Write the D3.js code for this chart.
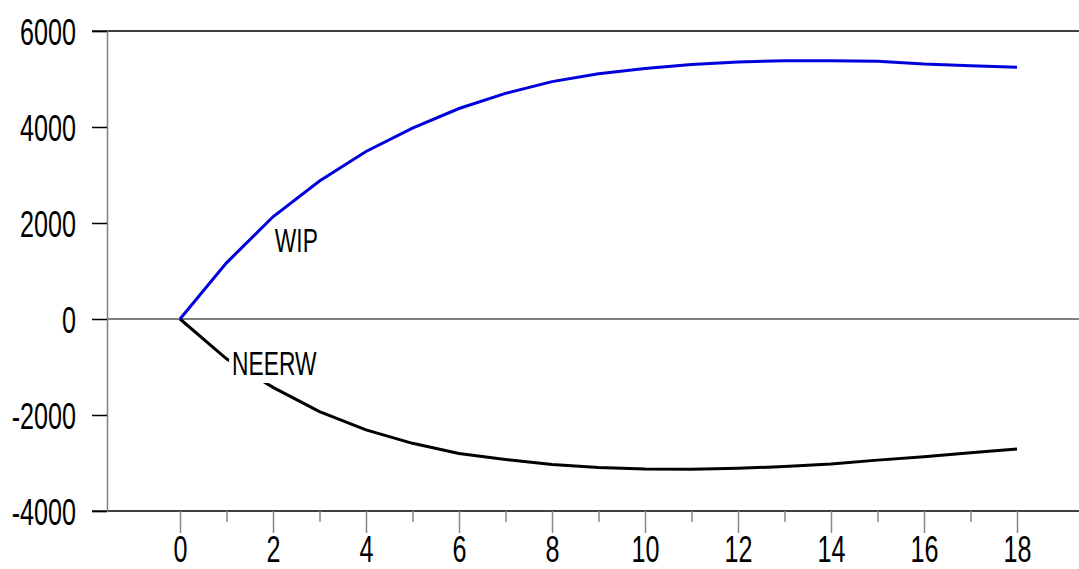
<!DOCTYPE html>
<html>
<head>
<meta charset="utf-8">
<script src="https://cdn.jsdelivr.net/npm/d3@7"></script>
<style>
  body { margin: 0; background: #fff; }
  svg text { font-family: "Liberation Sans", Arial, sans-serif; fill: #000; }
</style>
</head>
<body>
<div id="chart"></div>
<script>
// horizon (periods)
var periods = [0, 1, 2, 3, 4, 5, 6, 7, 8, 9, 10, 11, 12, 13, 14, 15, 16, 17, 18];
// responses
var wip = [0, 1170, 2130, 2875, 3490, 3975, 4385, 4700, 4945, 5110, 5220, 5300, 5355, 5380, 5378, 5370, 5310, 5275, 5245];
var neerw = [0, -830, -1425, -1930, -2310, -2590, -2800, -2925, -3030, -3095, -3125, -3130, -3110, -3075, -3020, -2940, -2870, -2785, -2710];
var yTicks = [6000, 4000, 2000, 0, -2000, -4000];
var xMajor = [0, 2, 4, 6, 8, 10, 12, 14, 16, 18];
var xMinor = [1, 3, 5, 7, 9, 11, 13, 15, 17];
var labels = [
  { name: "WIP", x: 2.04, y: 1396 },
  { name: "NEERW", x: 1.12, y: -1167 }
];

var W = 1079, H = 569;
var sx = 0.68; // condensed look of the original font

var svg = d3.select("#chart").append("svg")
    .attr("width", W)
    .attr("height", H)
    .style("display", "block");

var x = d3.scaleLinear().domain([0, 18]).range([180, 1017]);
var y = d3.scaleLinear().domain([-4000, 6000]).range([511, 31]);

var left = 107, right = W;
var plain = function(d) { return String(d); }; // keep the ascii hyphen

// top and bottom frame lines
svg.append("line")
  .attr("x1", 92).attr("x2", right)
  .attr("y1", y(6000)).attr("y2", y(6000))
  .attr("stroke", "#000").attr("stroke-width", 1.5);
svg.append("line")
  .attr("x1", 92).attr("x2", right)
  .attr("y1", y(-4000)).attr("y2", y(-4000))
  .attr("stroke", "#000").attr("stroke-width", 1.5);

// zero line
svg.append("line")
  .attr("x1", left).attr("x2", right)
  .attr("y1", y(0)).attr("y2", y(0))
  .attr("stroke", "#000").attr("stroke-width", 1);

// y axis
var yAxis = svg.append("g")
    .attr("transform", "translate(" + left + ",0)")
    .call(d3.axisLeft(y).tickValues(yTicks).tickSize(15).tickPadding(16).tickFormat(plain));
yAxis.select(".domain").attr("stroke", "#808080").attr("stroke-width", 1.5);
yAxis.selectAll(".tick line").attr("stroke", "#000").attr("stroke-width", 1.5);
yAxis.selectAll(".tick text")
  .attr("font-size", 37)
  .attr("x", -31 / sx)
  .attr("dy", "0.36em")
  .attr("transform", "scale(" + sx + ",1)")
  .style("font-family", "'Liberation Sans', Arial, sans-serif");

// x axis, minor ticks
var xMinorAxis = svg.append("g")
    .attr("transform", "translate(0," + y(-4000) + ")")
    .call(d3.axisBottom(x).tickValues(xMinor).tickSize(11).tickFormat(""));
xMinorAxis.select(".domain").remove();
xMinorAxis.selectAll(".tick line").attr("stroke", "#888").attr("stroke-width", 1.5);

// x axis, major ticks
var xAxis = svg.append("g")
    .attr("transform", "translate(0," + y(-4000) + ")")
    .call(d3.axisBottom(x).tickValues(xMajor).tickSize(22).tickPadding(3).tickFormat(plain));
xAxis.select(".domain").remove();
xAxis.selectAll(".tick line").attr("stroke", "#888").attr("stroke-width", 1.5);
xAxis.selectAll(".tick text")
  .attr("font-size", 37)
  .attr("transform", "scale(" + sx + ",1)")
  .style("font-family", "'Liberation Sans', Arial, sans-serif");

// series
var line = d3.line()
    .x(function(d, i) { return x(periods[i]); })
    .y(function(d) { return y(d); });

svg.append("path")
  .datum(neerw)
  .attr("d", line)
  .attr("fill", "none")
  .attr("stroke", "#000")
  .attr("stroke-width", 3);

svg.append("path")
  .datum(wip)
  .attr("d", line)
  .attr("fill", "none")
  .attr("stroke", "#0000dd")
  .attr("stroke-width", 3);

// series labels (white box hides the line under the text)
var lab = svg.selectAll("g.lab")
    .data(labels)
    .enter().append("g")
    .attr("class", "lab")
    .attr("transform", function(d) { return "translate(" + x(d.x) + "," + y(d.y) + ")"; });

lab.append("text")
  .attr("font-size", 34)
  .attr("transform", "scale(0.67,1)")
  .text(function(d) { return d.name; });

lab.insert("rect", "text")
  .attr("x", -3)
  .attr("y", -30)
  .attr("width", function() { return this.parentNode.querySelector("text").getBBox().width * 0.67 + 6; })
  .attr("height", 38)
  .attr("fill", "#fff");
</script>
</body>
</html>
